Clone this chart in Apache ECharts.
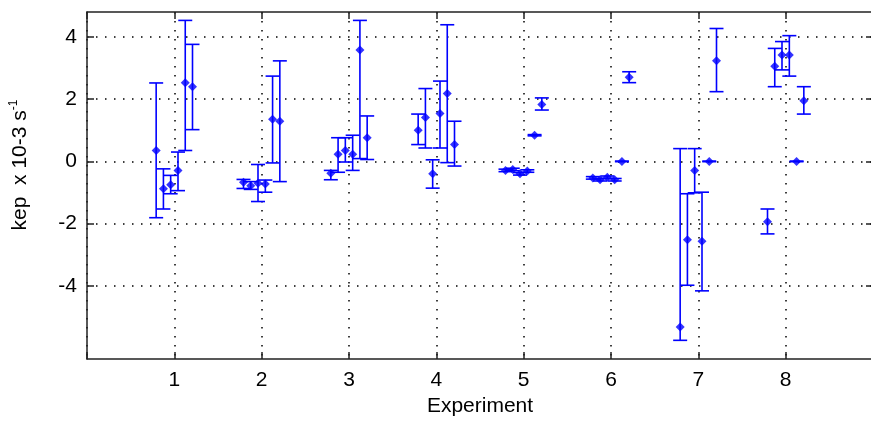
<!DOCTYPE html>
<html>
<head>
<meta charset="utf-8">
<script src="https://cdn.jsdelivr.net/npm/echarts@6/dist/echarts.min.js"></script>
<style>
  html, body { margin: 0; padding: 0; background: #fff; }
  #chart { width: 871px; height: 424px; }
</style>
</head>
<body>
<div id="chart"></div>
<script>
// experiments on the x axis, 6 measurements per experiment side by side
var experiments = [1, 2, 3, 4, 5, 6, 7, 8];
var xOffsets = [-0.208, -0.125, -0.042, 0.042, 0.125, 0.208];
var yTicks = [-4, -2, 0, 2, 4];

// kep values (x 10-3 s-1), one row per measurement, one column per experiment
var means = [
  [0.35, -0.67, -0.38, 1.00, -0.29, -0.53, -5.32, -1.94],
  [-0.88, -0.78, 0.23, 1.41, -0.26, -0.59, -2.52, 3.06],
  [-0.75, -0.70, 0.35, -0.40, -0.40, -0.51, -0.29, 3.42],
  [-0.29, -0.73, 0.23, 1.54, -0.31, -0.59, -2.57, 3.42],
  [2.53, 1.35, 3.58, 2.18, 0.84, 0.00, 0.00, 0.00],
  [2.40, 1.29, 0.76, 0.54, 1.83, 2.70, 3.23, 1.95]
];
var lows = [
  [-1.81, -0.87, -0.59, 0.54, -0.33, -0.57, -5.75, -2.33],
  [-1.53, -0.90, -0.35, 0.43, -0.30, -0.63, -3.98, 2.40],
  [-1.04, -1.29, -0.02, -0.86, -0.44, -0.55, -1.01, 2.94],
  [-0.94, -0.99, -0.29, 0.43, -0.35, -0.63, -4.16, 2.74],
  [0.35, -0.05, 0.09, -0.04, 0.82, -0.01, -0.01, -0.01],
  [1.02, -0.65, 0.06, -0.15, 1.65, 2.53, 2.24, 1.52]
];
var highs = [
  [2.52, -0.58, -0.29, 1.52, -0.25, -0.49, 0.41, -1.53],
  [-0.24, -0.65, 0.76, 2.34, -0.22, -0.55, -1.04, 3.63],
  [-0.45, -0.10, 0.76, 0.05, -0.36, -0.47, 0.41, 3.85],
  [0.30, -0.60, 0.84, 2.58, -0.27, -0.55, -0.99, 4.04],
  [4.53, 2.74, 4.53, 4.39, 0.86, 0.01, 0.01, 0.01],
  [3.76, 3.23, 1.46, 1.29, 2.04, 2.88, 4.27, 2.40]
];

var blue = '#0000ff';
var series = [];

for (var s = 0; s < means.length; s++) {
  var barData = [];
  var pointData = [];
  for (var e = 0; e < experiments.length; e++) {
    var x = experiments[e] + xOffsets[s];
    barData.push([x, lows[s][e], highs[s][e]]);
    pointData.push([x, means[s][e]]);
  }
  series.push({
    type: 'custom',
    data: barData,
    encode: { x: 0, y: [1, 2] },
    silent: true,
    renderItem: function (params, api) {
      var lo = api.coord([api.value(0), api.value(1)]);
      var hi = api.coord([api.value(0), api.value(2)]);
      var w = 7;
      var st = { stroke: blue, lineWidth: 1.6 };
      return {
        type: 'group',
        children: [
          { type: 'line', shape: { x1: lo[0], y1: lo[1], x2: hi[0], y2: hi[1] }, style: st },
          { type: 'line', shape: { x1: lo[0] - w, y1: lo[1], x2: lo[0] + w, y2: lo[1] }, style: st },
          { type: 'line', shape: { x1: hi[0] - w, y1: hi[1], x2: hi[0] + w, y2: hi[1] }, style: st }
        ]
      };
    }
  });
  series.push({
    type: 'scatter',
    data: pointData,
    symbol: 'diamond',
    symbolSize: 9,
    itemStyle: { color: blue },
    silent: true
  });
}

var gridDots = { show: true, lineStyle: { color: '#000', width: 1.5, type: [1.5, 7.5] } };
var axisFont = { fontFamily: 'Liberation Sans, Arial, sans-serif', fontSize: 21, color: '#000' };
var boxLine = { show: true, onZero: false, lineStyle: { color: '#222', width: 1.5 } };
var boxTick = { show: true, inside: true, length: 7, lineStyle: { color: '#222', width: 1.5 } };

var option = {
  animation: false,
  backgroundColor: '#fff',
  // the right edge of the box falls just outside the picture, as in the original crop
  grid: { left: 87, top: 12, width: 786, height: 347, outerBoundsMode: 'none', containLabel: false },
  xAxis: [{
    type: 'value', min: 0, max: 9, interval: 1,
    axisLine: boxLine,
    axisTick: boxTick,
    axisLabel: Object.assign({
      margin: 11,
      formatter: function (v) { return experiments.indexOf(v) >= 0 ? String(v) : ''; }
    }, axisFont),
    splitLine: gridDots,
    name: 'Experiment',
    nameLocation: 'middle',
    nameGap: 37,
    nameTextStyle: axisFont
  }, {
    type: 'value', min: 0, max: 9, interval: 1, position: 'top',
    axisLine: boxLine,
    axisTick: boxTick,
    axisLabel: { show: false },
    splitLine: { show: false }
  }],
  yAxis: [{
    type: 'value', min: -6.35, max: 4.8,
    axisLine: boxLine,
    axisTick: Object.assign({ customValues: yTicks }, boxTick),
    axisLabel: Object.assign({ margin: 10, customValues: yTicks }, axisFont),
    splitLine: gridDots
  }, {
    type: 'value', min: -6.35, max: 4.8, position: 'right',
    axisLine: boxLine,
    axisTick: Object.assign({ customValues: yTicks }, boxTick),
    axisLabel: { show: false },
    splitLine: { show: false }
  }],
  graphic: [{
    type: 'text',
    x: 20,
    y: 165,
    rotation: Math.PI / 2,
    style: {
      text: '{a|kep  x 10-3 s}{b|-1}',
      align: 'center',
      verticalAlign: 'middle',
      rich: {
        a: { fontFamily: 'Liberation Sans, Arial, sans-serif', fontSize: 21, fill: '#000', lineHeight: 24 },
        b: { fontFamily: 'Liberation Sans, Arial, sans-serif', fontSize: 12, fill: '#000', verticalAlign: 'top', lineHeight: 24 }
      }
    }
  }],
  series: series
};

var chart = echarts.init(document.getElementById('chart'));
chart.setOption(option);
</script>
</body>
</html>
